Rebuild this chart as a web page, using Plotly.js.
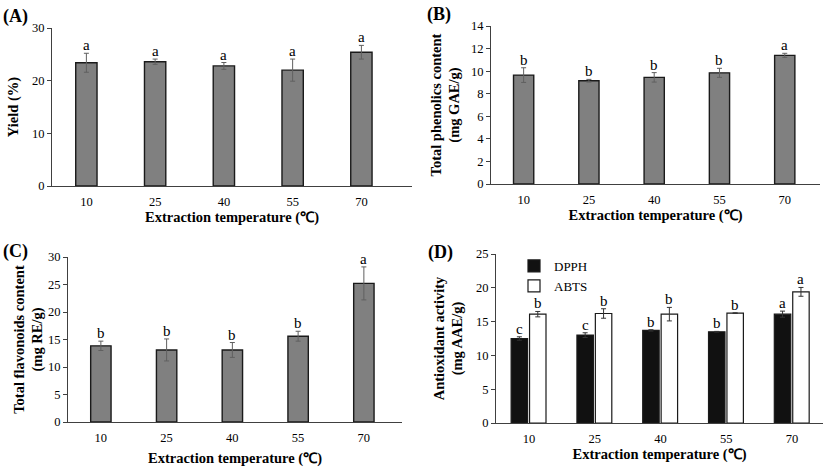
<!DOCTYPE html>
<html><head><meta charset="utf-8">
<script src="https://cdn.plot.ly/plotly-3.0.1.min.js"></script>
<style>html,body{margin:0;padding:0;background:#fff}#chart{width:827px;height:467px}</style>
</head><body><div id="chart"></div>
<script>
const temps = ['10', '25', '40', '55', '70'];
const xTitle = 'Extraction temperature (℃)';

const yieldVals = [23.4, 23.6, 22.8, 22.0, 25.4];
const yieldErr = [1.8, 0.5, 0.65, 2.1, 1.3];
const yieldLetters = ['a', 'a', 'a', 'a', 'a'];

const phenolVals = [9.65, 9.15, 9.45, 9.85, 11.4];
const phenolErr = [0.65, 0.12, 0.42, 0.4, 0.18];
const phenolLetters = ['b', 'b', 'b', 'b', 'a'];

const flavVals = [13.85, 13.1, 13.1, 15.6, 25.2];
const flavErr = [0.85, 2.0, 1.35, 0.9, 3.0];
const flavLetters = ['b', 'b', 'b', 'b', 'a'];

const dpphVals = [12.5, 13.0, 13.7, 13.5, 16.1];
const dpphErr = [0.25, 0.35, 0.1, 0.05, 0.45];
const dpphLetters = ['c', 'c', 'b', 'b', 'a'];

const abtsVals = [16.1, 16.2, 16.1, 16.25, 19.4];
const abtsErr = [0.4, 0.7, 1.0, 0.05, 0.65];
const abtsLetters = ['b', 'b', 'b', 'b', 'a'];

const W = 827, H = 467;
const SERIF = 'Liberation Serif, Times New Roman, serif';
const GRAY = '#808080', EDGE = '#1a1a1a', ERR = '#606060', AXIS = '#404040';

function px(x) { return x / W; }
function py(y) { return 1 - y / H; }

function bar(vals, errs, xa, ya, opts) {
  return Object.assign({
    type: 'bar', x: temps, y: vals, xaxis: xa, yaxis: ya,
    width: 0.31, showlegend: false, hoverinfo: 'skip',
    marker: { color: GRAY, line: { color: EDGE, width: 1.4 } },
    error_y: { type: 'data', array: errs, visible: true, color: ERR, thickness: 1, width: 2.5 }
  }, opts || {});
}

const traces = [
  bar(yieldVals, yieldErr, 'x', 'y'),
  bar(phenolVals, phenolErr, 'x2', 'y2'),
  bar(flavVals, flavErr, 'x3', 'y3'),
  bar(dpphVals, dpphErr, 'x4', 'y4', { name: 'DPPH', showlegend: true, width: 0.25, offset: -0.27,
    marker: { color: '#111111', line: { color: EDGE, width: 1.2 } },
    error_y: { type: 'data', array: dpphErr, visible: true, color: '#333', thickness: 1, width: 2.5 } }),
  bar(abtsVals, abtsErr, 'x4', 'y4', { name: 'ABTS', showlegend: true, width: 0.25, offset: 0.01,
    marker: { color: '#ffffff', line: { color: EDGE, width: 1.2 } },
    error_y: { type: 'data', array: abtsErr, visible: true, color: '#333', thickness: 1, width: 2.5 } })
];

function xaxis(x0, x1, rmax, anchor, standoff) {
  return {
    domain: [px(x0), px(x1)], anchor: anchor, type: 'category',
    range: [-0.5, rmax], showgrid: false, zeroline: false,
    showline: true, linecolor: AXIS, linewidth: 1, ticks: '',
    ticklabelstandoff: 4,
    tickfont: { family: SERIF, size: 12.5, color: '#000' },
    title: { text: '<b>' + xTitle + '</b>', font: { family: SERIF, size: 14.5, color: '#000' }, standoff: standoff },
    fixedrange: true
  };
}
function yaxis(y0, y1, rmax, dtick, anchor, title, standoff) {
  return {
    domain: [py(y1), py(y0)], anchor: anchor, range: [0, rmax], dtick: dtick,
    showgrid: false, zeroline: false, showline: true, linecolor: AXIS, linewidth: 1,
    ticks: 'outside', ticklen: 4, tickcolor: AXIS,
    tickfont: { family: SERIF, size: 12.5, color: '#000' },
    title: { text: title, font: { family: SERIF, size: 14.5, color: '#000' }, standoff: standoff },
    fixedrange: true
  };
}

const annotations = [];
function letters(vals, errs, labs, xref, yref, shift) {
  labs.forEach((t, i) => {
    annotations.push({ xref: xref, yref: yref, x: i + (shift || 0), y: vals[i] + errs[i],
      text: t, showarrow: false, yanchor: 'bottom', yshift: -2,
      font: { family: SERIF, size: 15, color: '#000' } });
  });
}
letters(yieldVals, yieldErr, yieldLetters, 'x', 'y');
letters(phenolVals, phenolErr, phenolLetters, 'x2', 'y2');
letters(flavVals, flavErr, flavLetters, 'x3', 'y3');
letters(dpphVals, dpphErr, dpphLetters, 'x4', 'y4', -0.145);
letters(abtsVals, abtsErr, abtsLetters, 'x4', 'y4', 0.135);

[['(A)', 1, 4], ['(B)', 425, 2], ['(C)', 1, 239], ['(D)', 426, 240]].forEach(p => {
  annotations.push({ xref: 'paper', yref: 'paper', x: px(p[1]), y: py(p[2]),
    xanchor: 'left', yanchor: 'top', showarrow: false, text: '<b>' + p[0] + '</b>',
    font: { family: SERIF, size: 18, color: '#000' } });
});

const layout = {
  width: W, height: H, margin: { l: 0, r: 0, t: 0, b: 0 },
  paper_bgcolor: '#fff', plot_bgcolor: '#fff', barmode: 'overlay',
  xaxis: xaxis(52, 412, 4.736, 'y', 3),
  yaxis: yaxis(28, 186, 30, 10, 'x', '<b>Yield (%)</b>', 9),
  xaxis2: xaxis(491, 820, 4.54, 'y2', 3),
  yaxis2: yaxis(26, 184, 14, 2, 'x2', '<b>Total phenolics content<br>(mg GAE/g)</b>', 7),
  xaxis3: xaxis(68, 402, 4.58, 'y3', 9),
  yaxis3: yaxis(257, 422, 30, 5, 'x3', '<b>Total flavonoids content<br>(mg RE/g)</b>', 1),
  xaxis4: xaxis(496, 823, 4.47, 'y4', 1),
  yaxis4: yaxis(254, 423, 25, 5, 'x4', '<b>Antioxidant activity<br>(mg AAE/g)</b>', 9),
  legend: { x: px(514), y: py(251), xanchor: 'left', yanchor: 'top', bgcolor: 'rgba(0,0,0,0)',
    font: { family: SERIF, size: 13, color: '#000' }, itemwidth: 30, traceorder: 'normal',
    tracegroupgap: 0 },
  annotations: annotations
};

Plotly.newPlot('chart', traces, layout, { displayModeBar: false, staticPlot: true });
</script></body></html>
